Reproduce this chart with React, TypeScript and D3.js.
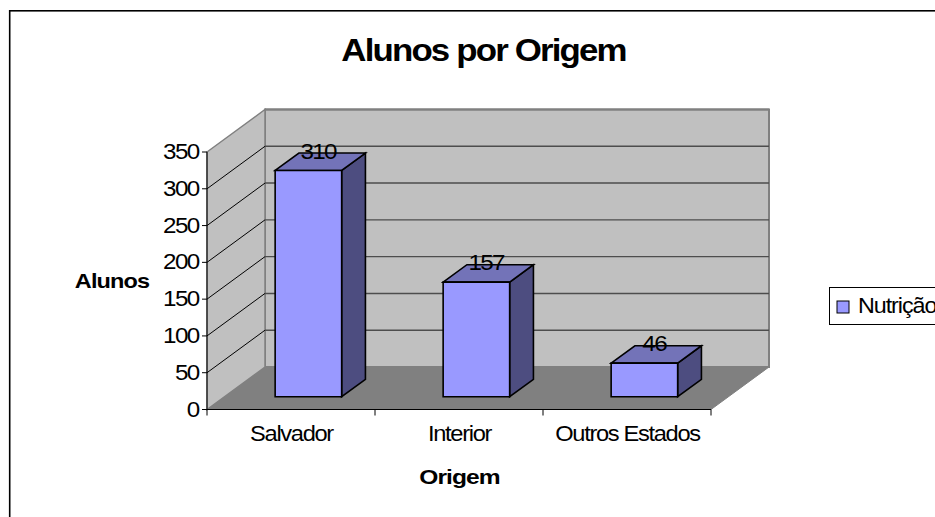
import { useEffect, useRef } from 'react';
import * as d3 from 'd3';

const categories = ['Salvador', 'Interior', 'Outros Estados'];
const alunos = [310, 157, 46];
const yTicks = [0, 50, 100, 150, 200, 250, 300, 350];
const seriesName = 'Nutrição';
const chartTitle = 'Alunos por Origem';
const xTitle = 'Origem';
const yTitle = 'Alunos';

const FONT = '"Liberation Sans", Arial, sans-serif';
const WIDTH = 935;
const HEIGHT = 517;

export default function App() {
  const svgRef = useRef<SVGSVGElement>(null);

  useEffect(() => {
    if (!svgRef.current) return;
    const svg = d3.select(svgRef.current);
    svg.selectAll('*').remove();

    const x = d3.scaleBand().domain(categories).range([207, 711]);
    const y = d3.scaleLinear().domain([0, 350]).range([409.5, 152]);
    const barY = d3.scaleLinear().domain([0, 350]).range([409.5, 154]);
    // depth runs from 0 (front) to 1 (back wall)
    const depthX = d3.scaleLinear().domain([0, 1]).range([0, 58]);
    const depthY = d3.scaleLinear().domain([0, 1]).range([0, -42.5]);
    const pt = (px: number, py: number, d: number) => (px + depthX(d)) + ',' + (py + depthY(d));
    const poly = (pts: string[], fill: string, stroke = 'none', sw = 0) =>
      svg.append('polygon').attr('points', pts.join(' ')).attr('fill', fill).attr('stroke', stroke).attr('stroke-width', sw);
    // the original text is stretched sideways, so every label gets its own x scale
    const label = (s: string | number, px: number, py: number, size: number, sx: number, spacing: number, anchor: string, bold = false) =>
      svg.append('text')
        .attr('transform', 'translate(' + px + ',' + py + ') scale(' + sx + ',1)')
        .attr('text-anchor', anchor)
        .attr('font-family', FONT)
        .attr('font-size', size)
        .attr('font-weight', bold ? 'bold' : 'normal')
        .attr('letter-spacing', spacing)
        .attr('fill', '#000')
        .text(s);

    const [x0, x1] = x.range();
    const top = y(350);
    const bot = y(0);

    svg.append('rect').attr('x', 9.7).attr('y', 10.8).attr('width', WIDTH + 10).attr('height', HEIGHT + 10)
      .attr('fill', '#fff').attr('stroke', '#000').attr('stroke-width', 1.6);

    // back wall, side wall, floor
    poly([pt(x0, top, 1), pt(x1, top, 1), pt(x1, bot, 1), pt(x0, bot, 1)], '#c0c0c0', '#808080', 2);
    poly([pt(x0, top, 0), pt(x0, top, 1), pt(x0, bot, 1), pt(x0, bot, 0)], '#c0c0c0', '#808080', 1.5);
    poly([pt(x0, bot, 0), pt(x0, bot, 1), pt(x1, bot, 1), pt(x1, bot, 0)], '#808080');

    // gridlines wrap from the side wall onto the back wall
    yTicks.slice(1, -1).forEach(t => {
      svg.append('polyline').attr('points', [pt(x0, y(t), 0), pt(x0, y(t), 1)].join(' '))
        .attr('fill', 'none').attr('stroke', '#000').attr('stroke-width', 1);
      svg.append('polyline').attr('points', [pt(x0, y(t), 1), pt(x1, y(t), 1)].join(' '))
        .attr('fill', 'none').attr('stroke', '#4d4d4d').attr('stroke-width', 1.4);
    });
    svg.append('line').attr('x1', x0 + depthX(1)).attr('x2', x1 + depthX(1)).attr('y1', top + depthY(1)).attr('y2', top + depthY(1))
      .attr('stroke', '#808080').attr('stroke-width', 2);

    // axes
    svg.append('line').attr('x1', x0).attr('x2', x0).attr('y1', top).attr('y2', bot + 6).attr('stroke', '#000');
    svg.append('line').attr('x1', x0).attr('x2', x1).attr('y1', bot).attr('y2', bot).attr('stroke', '#000');
    svg.append('polyline').attr('points', [pt(x1, bot, 0), pt(x1, bot, 1)].join(' '))
      .attr('fill', 'none').attr('stroke', '#808080').attr('stroke-width', 1);

    yTicks.forEach(t => {
      svg.append('line').attr('x1', x0 - 5).attr('x2', x0).attr('y1', y(t)).attr('y2', y(t)).attr('stroke', '#000');
      label(t, 198.5, y(t) + 7, 22, 1.1, -1.5, 'end');
    });
    categories.forEach(c => {
      const bx = x(c)! + x.bandwidth();
      svg.append('line').attr('x1', bx).attr('x2', bx).attr('y1', bot).attr('y2', bot + 6).attr('stroke', '#000');
      label(c, x(c)! + x.bandwidth() / 2 + 0.5, 441, 21.5, 1.1, -1.2, 'middle');
    });

    // bars
    const dFront = 0.3;
    const dBack = 0.71;
    const barW = 66.5;
    categories.forEach((c, i) => {
      const v = alunos[i];
      const l = x(c)! + (x.bandwidth() - barW) / 2;
      const r = l + barW;
      const vy = barY(v);
      const stroke = '#000';
      poly([pt(r, vy, dFront), pt(r, vy, dBack), pt(r, bot, dBack), pt(r, bot, dFront)], '#4d4d80', stroke, 1.6);
      poly([pt(l, vy, dFront), pt(l, vy, dBack), pt(r, vy, dBack), pt(r, vy, dFront)], '#7373b8', stroke, 1.6);
      poly([pt(l, vy, dFront), pt(r, vy, dFront), pt(r, bot, dFront), pt(l, bot, dFront)], '#9999ff', stroke, 1.6);
      label(v, l + barW / 2 + depthX(dBack) - 14, vy + depthY(dBack) + 5.5, 22, 1.1, -1.5, 'middle');
    });

    // titles
    label(chartTitle, 483.5, 61, 32, 1.09, -1.7, 'middle', true);
    label(xTitle, 459.5, 484, 21, 1.17, -0.8, 'middle', true);
    label(yTitle, 112, 288, 21, 1.12, -0.8, 'middle', true);

    // legend
    svg.append('rect').attr('x', 829.5).attr('y', 287.5).attr('width', 120).attr('height', 37)
      .attr('fill', '#fff').attr('stroke', '#000').attr('stroke-width', 1);
    svg.append('rect').attr('x', 837).attr('y', 301).attr('width', 12).attr('height', 12)
      .attr('fill', '#9999ff').attr('stroke', '#000').attr('stroke-width', 1);
    label(seriesName, 858, 312.5, 22, 1.06, -1, 'start');
  }, []);

  return <svg ref={svgRef} width={WIDTH} height={HEIGHT} style={{ position: 'absolute', left: 0, top: 0 }} />;
}
